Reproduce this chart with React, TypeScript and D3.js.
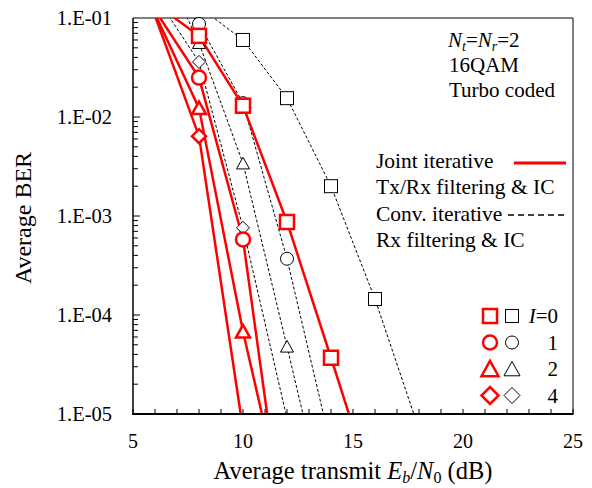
import React from 'react';
import * as d3 from 'd3';

// Eb/N0 (dB) grid and BER values
const jointEb0 = [6, 8, 10, 12, 14, 16];
const jointBer0 = [0.14, 0.066, 0.013, 8.7e-4, 3.7e-5, 1.5e-6];
const jointEb1 = [6, 8, 10, 12];
const jointBer1 = [0.12, 0.025, 5.8e-4, 3.6e-7];
const jointEb2 = [6, 8, 10, 12];
const jointBer2 = [0.11, 0.0123, 6.8e-5, 8e-7];
const jointEb4 = [6, 8, 10];
const jointBer4 = [0.105, 0.0064, 7e-6];

const convEb0 = [8, 10, 12, 14, 16, 18];
const convBer0 = [0.13, 0.06, 0.0155, 0.002, 1.45e-4, 7e-6];
const convEb1 = [6, 8, 10, 12, 14];
const convBer1 = [0.3, 0.087, 0.0138, 3.7e-4, 4.7e-6];
const convEb2 = [6, 8, 10, 12, 14];
const convBer2 = [0.5, 0.056, 0.0034, 4.8e-5, 6.3e-7];
const convEb4 = [6, 8, 10, 12, 14];
const convBer4 = [0.17, 0.036, 7.6e-4, 9e-6, 1.6e-7];

const xTicks = [5, 10, 15, 20, 25];
const yTicks = [1e-1, 1e-2, 1e-3, 1e-4, 1e-5];
const yTickLabels = ['1.E-01', '1.E-02', '1.E-03', '1.E-04', '1.E-05'];
const iterLabels = ['0', '1', '2', '4'];
const markerKinds = ['square', 'circle', 'triangle', 'diamond'];

const W = 592;
const H = 488;
const m = { left: 133, right: 573, top: 18, bottom: 414 };
const RED = '#ff0000';
const FONT = '"Liberation Serif", "Times New Roman", serif';

const x = d3.scaleLinear().domain([5, 25]).range([m.left, m.right]);
const y = d3.scaleLog().domain([1e-5, 1e-1]).range([m.bottom, m.top]);

const joint = [
  { eb: jointEb0, ber: jointBer0 },
  { eb: jointEb1, ber: jointBer1 },
  { eb: jointEb2, ber: jointBer2 },
  { eb: jointEb4, ber: jointBer4 },
];
const conv = [
  { eb: convEb0, ber: convBer0 },
  { eb: convEb1, ber: convBer1 },
  { eb: convEb2, ber: convBer2 },
  { eb: convEb4, ber: convBer4 },
];

const line = d3
  .line<[number, number]>()
  .x((d) => x(d[0]))
  .y((d) => y(d[1]));

// simple marker drawer, size = approx width in px
const Marker = ({ kind, cx, cy, size, color, sw }: any) => {
  const h = size / 2;
  if (kind === 'square')
    return <rect x={cx - h} y={cy - h} width={size} height={size} fill="white" stroke={color} strokeWidth={sw} />;
  if (kind === 'circle') return <circle cx={cx} cy={cy} r={h} fill="white" stroke={color} strokeWidth={sw} />;
  if (kind === 'triangle') {
    const pts = `${cx - h},${cy + h * 0.85} ${cx + h},${cy + h * 0.85} ${cx},${cy - h * 0.95}`;
    return <polygon points={pts} fill="white" stroke={color} strokeWidth={sw} />;
  }
  const pts = `${cx},${cy - h} ${cx + h},${cy} ${cx},${cy + h} ${cx - h},${cy}`;
  return <polygon points={pts} fill="white" stroke={color} strokeWidth={sw} />;
};

const inView = (b: number) => b <= 0.1001 && b >= 0.99e-5;

// legend marker sizes (triangles / diamonds drawn a bit larger there)
const legendSizes = [13, 13, 16, 16];

export default function App() {
  const minorX = d3.range(5, 26, 1);
  const minorY: number[] = [];
  for (let e = -5; e < -1; e++) for (let k = 1; k < 10; k++) minorY.push(k * Math.pow(10, e));

  return (
    <div style={{ position: 'absolute', left: 0, top: 0 }}>
      <svg width={W} height={H} style={{ display: 'block', background: 'white' }} fontFamily={FONT}>
        <defs>
          <clipPath id="plot">
            <rect x={m.left} y={m.top} width={m.right - m.left} height={m.bottom - m.top} />
          </clipPath>
        </defs>

        {/* frame */}
        <line x1={m.left} x2={m.right} y1={m.top} y2={m.top} stroke="#000" strokeWidth={1} />
        <line x1={m.right} x2={m.right} y1={m.top} y2={m.bottom} stroke="#000" strokeWidth={1} />

        {/* ticks */}
        {minorX.map((t) => (
          <line key={'tx' + t} x1={x(t)} x2={x(t)} y1={m.bottom} y2={m.bottom - 5} stroke="#000" strokeWidth={1} />
        ))}
        {minorY.map((t, i) => {
          const major = Math.abs(Math.log10(t) - Math.round(Math.log10(t))) < 1e-9;
          return (
            <line key={'ty' + i} x1={m.left} x2={m.left + (major ? 7 : 5)} y1={y(t)} y2={y(t)} stroke="#000" strokeWidth={1} />
          );
        })}

        {/* curves */}
        <g clipPath="url(#plot)">
          {conv.map((s, i) => (
            <path
              key={'c' + i}
              d={line(s.eb.map((e, j) => [e, s.ber[j]] as [number, number])) || ''}
              fill="none"
              stroke="#000"
              strokeWidth={1}
              strokeDasharray="3,2"
            />
          ))}
          {joint.map((s, i) => (
            <path
              key={'j' + i}
              d={line(s.eb.map((e, j) => [e, s.ber[j]] as [number, number])) || ''}
              fill="none"
              stroke={RED}
              strokeWidth={2.5}
            />
          ))}
        </g>

        {/* markers */}
        {conv.map((s, i) =>
          s.eb.map((e, j) =>
            inView(s.ber[j]) ? (
              <Marker key={`cm${i}-${j}`} kind={markerKinds[i]} cx={x(e)} cy={y(s.ber[j])} size={13} color="#000" sw={1} />
            ) : null
          )
        )}
        {joint.map((s, i) =>
          s.eb.map((e, j) =>
            inView(s.ber[j]) ? (
              <Marker key={`jm${i}-${j}`} kind={markerKinds[i]} cx={x(e)} cy={y(s.ber[j])} size={14} color={RED} sw={2.5} />
            ) : null
          )
        )}

        {/* axis spines */}
        <line x1={m.left} x2={m.left} y1={m.top} y2={m.bottom} stroke="#000" strokeWidth={1.5} />
        <line x1={m.left - 1} x2={m.right + 0.5} y1={m.bottom} y2={m.bottom} stroke="#000" strokeWidth={2} />

        {/* tick labels */}
        {xTicks.map((t) => (
          <text key={'xl' + t} x={x(t)} y={448} textAnchor="middle" fontSize={20}>
            {t}
          </text>
        ))}
        {yTicks.map((t, i) => (
          <text key={'yl' + t} x={112} y={y(t) + 7} textAnchor="end" fontSize={20.5}>
            {yTickLabels[i]}
          </text>
        ))}

        {/* axis titles */}
        <text x={353} y={479} textAnchor="middle" fontSize={24.5}>
          Average transmit <tspan fontStyle="italic">E</tspan>
          <tspan fontStyle="italic" fontSize={16} dy={4}>b</tspan>
          <tspan dy={-4}>/</tspan>
          <tspan fontStyle="italic">N</tspan>
          <tspan fontSize={16} dy={4}>0</tspan>
          <tspan dy={-4}> (dB)</tspan>
        </text>
        <text transform="translate(31,218) rotate(-90)" textAnchor="middle" fontSize={24}>
          Average BER
        </text>

        {/* annotation */}
        <text x={448} y={47} fontSize={21}>
          <tspan fontStyle="italic">N</tspan>
          <tspan fontStyle="italic" fontSize={14} dy={4}>t</tspan>
          <tspan dy={-4}>=</tspan>
          <tspan fontStyle="italic">N</tspan>
          <tspan fontStyle="italic" fontSize={14} dy={4}>r</tspan>
          <tspan dy={-4}>=2</tspan>
        </text>
        <text x={449} y={72} fontSize={21}>16QAM</text>
        <text x={449} y={97} fontSize={21}>Turbo coded</text>

        {/* legend: line styles */}
        <text x={376} y={168} fontSize={21.5}>Joint iterative</text>
        <line x1={514} x2={566} y1={163} y2={163} stroke={RED} strokeWidth={3} />
        <text x={376} y={194} fontSize={21.5}>Tx/Rx filtering &amp; IC</text>
        <text x={376} y={221} fontSize={21.5}>Conv. iterative</text>
        <line x1={508} x2={566} y1={215} y2={215} stroke="#000" strokeWidth={1.5} strokeDasharray="6,4" />
        <text x={376} y={247} fontSize={21.5}>Rx filtering &amp; IC</text>

        {/* legend: markers */}
        {iterLabels.map((lab, i) => {
          const cy = 316 + i * 26.5;
          return (
            <g key={'lg' + i}>
              <Marker kind={markerKinds[i]} cx={490} cy={cy} size={legendSizes[i] + 1} color={RED} sw={2.5} />
              <Marker kind={markerKinds[i]} cx={512} cy={cy} size={legendSizes[i]} color="#000" sw={1} />
              {i === 0 ? (
                <text x={558} y={cy + 7} textAnchor="end" fontSize={21}>
                  <tspan fontStyle="italic">I</tspan>=0
                </text>
              ) : (
                <text x={558} y={cy + 7} textAnchor="end" fontSize={21}>
                  {lab}
                </text>
              )}
            </g>
          );
        })}
      </svg>
    </div>
  );
}
